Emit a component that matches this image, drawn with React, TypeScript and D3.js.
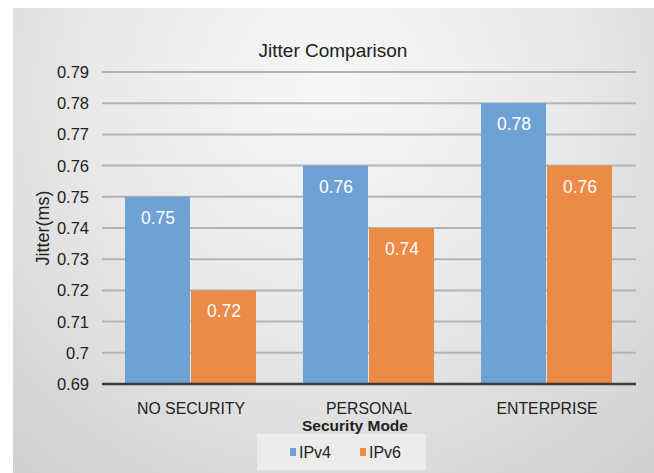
import React from "react";
import * as d3 from "d3";

const categories = ["NO SECURITY", "PERSONAL", "ENTERPRISE"];
const seriesNames = ["IPv4", "IPv6"];
const ipv4 = [0.75, 0.76, 0.78];
const ipv6 = [0.72, 0.74, 0.76];
const yTicks = [0.69, 0.7, 0.71, 0.72, 0.73, 0.74, 0.75, 0.76, 0.77, 0.78, 0.79];
const colors = ["#6fa2d4", "#ec8a47"];

const W = 654;
const H = 473;
const font = "'Liberation Sans', Arial, Helvetica, sans-serif";

export default function App() {
  const y = d3.scaleLinear().domain([0.69, 0.79]).range([384, 72]);
  const x0 = d3.scaleBand<string>().domain(categories).range([102, 636]).padding(0);
  const groupW = 132;
  const x1 = d3.scaleBand<string>().domain(seriesNames).range([0, groupW]).padding(0);
  const off = (x0.bandwidth() - groupW) / 2;
  const values = [ipv4, ipv6];

  return (
    <svg width={W} height={H} style={{ position: "absolute", left: 0, top: 0, fontFamily: font }}>
      <defs>
        <radialGradient id="bg" cx="330" cy="90" r="520" gradientUnits="userSpaceOnUse">
          <stop offset="0" stopColor="#f7f7f7" />
          <stop offset="0.45" stopColor="#e9e9e9" />
          <stop offset="1" stopColor="#cdcdcd" />
        </radialGradient>
      </defs>
      <rect x={0} y={0} width={W} height={H} fill="#ffffff" />
      <rect x={13} y={8} width={W - 13} height={H - 8} fill="url(#bg)" />
      <text x={333} y={57} textAnchor="middle" fontSize={19} fill="#222">
        Jitter Comparison
      </text>
      {yTicks.map((t) => (
        <g key={t}>
          {t !== 0.69 && (
            <line x1={102} x2={636} y1={y(t)} y2={y(t)} stroke="#b4b4b4" strokeWidth={2} />
          )}
          <text x={89} y={y(t) + 6} textAnchor="end" fontSize={16.5} fill="#222">
            {d3.format("")(+t.toFixed(2))}
          </text>
        </g>
      ))}
      {categories.map((c, i) =>
        seriesNames.map((s, j) => {
          const v = values[j][i];
          const bx = (x0(c) as number) + off + (x1(s) as number);
          const bw = x1.bandwidth();
          return (
            <g key={c + s}>
              <rect x={bx} y={y(v)} width={bw - 1} height={y(0.69) - y(v)} fill={colors[j]} />
              <text x={bx + bw / 2} y={y(v) + 27} textAnchor="middle" fontSize={17.5} fill="#ffffff">
                {v.toFixed(2)}
              </text>
            </g>
          );
        })
      )}
      <line x1={102} x2={636} y1={y(0.69)} y2={y(0.69)} stroke="#3a3a3a" strokeWidth={2.5} />
      {categories.map((c) => (
        <text key={c} x={(x0(c) as number) + x0.bandwidth() / 2} y={414} textAnchor="middle" fontSize={15.8} fill="#222">
          {c}
        </text>
      ))}
      <text x={355} y={431} textAnchor="middle" fontSize={15.5} fontWeight="bold" fill="#222">
        Security Mode
      </text>
      <text transform={`translate(49,228) rotate(-90)`} textAnchor="middle" fontSize={18} fill="#222">
        Jitter(ms)
      </text>
      <rect x={257} y={434} width={169} height={36} fill="#ececec" />
      {seriesNames.map((s, j) => {
        const lx = j === 0 ? 290 : 360;
        return (
          <g key={s}>
            <rect x={lx} y={448} width={6} height={8} fill={colors[j]} />
            <text x={lx + 9} y={458} fontSize={16} fill="#222">
              {s}
            </text>
          </g>
        );
      })}
    </svg>
  );
}
